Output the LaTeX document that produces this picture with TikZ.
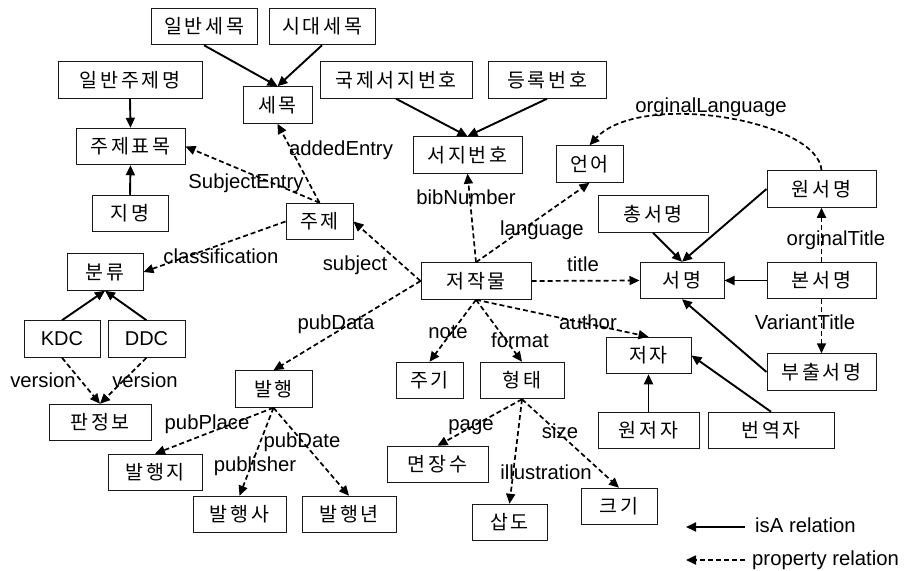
\documentclass[tikz,border=0pt]{standalone}
\usepackage{fontspec}
\setmainfont{Liberation Sans}
\newfontfamily\kr{Noto Sans CJK KR}[LetterSpace=14]
\usetikzlibrary{arrows.meta}
\begin{document}
\begin{tikzpicture}[x=1pt,y=-1pt,
  box/.style={draw=black!90, line width=1pt, minimum height=36.5pt, inner sep=0pt, font=\kr\fontsize{19.5}{24}\selectfont},
  latinbox/.style={box, font=\fontsize{20}{24}\selectfont},
  isa/.style={line width=1.9pt, -{Triangle[length=10pt,width=9pt]}},
  prop/.style={line width=1.7pt, dash pattern=on 5pt off 3pt, -{Triangle[length=10pt,width=9pt]}},
  lbl/.style={font=\fontsize{20.3}{24}\selectfont, inner sep=0pt, anchor=base}]
\fill[white] (0,0) rectangle (904,570);
\useasboundingbox (0,0) rectangle (904,570);

% boxes
\node[box, minimum width=106pt] (ils) at (204,26.5) {일반세목};
\node[box, minimum width=106pt] (sid) at (322,26.5) {시대세목};
\node[box, minimum width=144pt] (iljm) at (130,80) {일반주제명};
\node[box, minimum width=69pt] (sem) at (277.5,105) {세목};
\node[box, minimum width=152pt] (gjs) at (396,80) {국제서지번호};
\node[box, minimum width=118pt] (dr) at (547,80) {등록번호};
\node[box, minimum width=109pt] (jjp) at (130.5,146.5) {주제표목};
\node[box, minimum width=109pt] (sjb) at (467.5,155) {서지번호};
\node[box, minimum width=67pt] (eo) at (589.5,164) {언어};
\node[box, minimum width=109pt] (wsm) at (821.5,189) {원서명};
\node[box, minimum width=76pt] (jm) at (130,213.5) {지명};
\node[box, minimum width=110pt] (csm) at (653,214) {총서명};
\node[box, minimum width=67pt] (jj) at (319.5,221.5) {주제};
\node[box, minimum width=76pt] (bl) at (105,272) {분류};
\node[box, minimum width=110pt] (jjm) at (476,281) {저작물};
\node[box, minimum width=84pt] (sm) at (682,280.5) {서명};
\node[box, minimum width=109pt] (bsm) at (821.5,280.5) {본서명};
\node[latinbox, minimum width=76pt] (kdc) at (62,339) {KDC};
\node[latinbox, minimum width=77pt] (ddc) at (146.5,339) {DDC};
\node[box, minimum width=85pt] (jja) at (648.5,355.5) {저자};
\node[box, minimum width=109pt] (bcsm) at (821.5,372) {부출서명};
\node[box, minimum width=67pt] (jg) at (429.5,380.5) {주기};
\node[box, minimum width=84pt] (ht) at (522,380.5) {형태};
\node[box, minimum width=77pt] (bh) at (273.5,389) {발행};
\node[box, minimum width=102pt] (pjb) at (100,422.5) {판정보};
\node[box, minimum width=101pt] (wjj) at (648.5,430.5) {원저자};
\node[box, minimum width=126pt] (byj) at (771,430.5) {번역자};
\node[box, minimum width=101pt] (mjs) at (437.5,464.5) {면장수};
\node[box, minimum width=94pt] (bhj) at (155,472.5) {발행지};
\node[box, minimum width=76pt] (kg) at (619,506.5) {크기};
\node[box, minimum width=93pt] (bhs) at (239.5,514.5) {발행사};
\node[box, minimum width=94pt] (bhn) at (349,514.5) {발행년};
\node[box, minimum width=75pt] (sd) at (509.5,522.5) {삽도};

% isA relations
\draw[isa] (ils.south) -- (sem.north);
\draw[isa] (sid.south) -- (sem.north);
\draw[isa] (iljm.south) -- (jjp.north);
\draw[isa] (jm.north) -- (jjp.south);
\draw[isa] (gjs.south) -- (sjb.north);
\draw[isa] (dr.south) -- (sjb.north);
\draw[isa] (wsm.west) -- (sm.north);
\draw[isa] (csm.south) -- (sm.north);
\draw[isa] (bsm.west) -- (sm.east);
\draw[isa] (bcsm.west) -- (sm.south);
\draw[isa] (wjj.north) -- (jja.south);
\draw[isa] (byj.north) -- (jja.east);
\draw[isa] (kdc.north) -- (bl.south);
\draw[isa] (ddc.north) -- (bl.south);

% property relations
\draw[prop] (jj.north) -- (sem.south);
\draw[prop] (jj.north) -- (jjp.east);
\draw[prop] (jj.west) -- (bl.east);
\draw[prop] (jjm.west) -- (jj.east);
\draw[prop] (jjm.north) -- (sjb.south);
\draw[prop] (jjm.north) -- (eo.south);
\draw[prop] (jjm.east) -- (sm.west);
\draw[prop] (wsm.north) .. controls (818,120) and (640,90) .. (eo.north);
\draw[prop] (bsm.north) -- (wsm.south);
\draw[prop] (bsm.south) -- (bcsm.north);
\draw[prop] (jjm.west) -- (bh.north);
\draw[prop] (jjm.south) -- (jg.north);
\draw[prop] (jjm.south) -- (ht.north);
\draw[prop] (jjm.south) -- (jja.north);
\draw[prop] (ht.south) -- (mjs.north);
\draw[prop] (ht.south) -- (sd.north);
\draw[prop] (ht.south) -- (kg.north);
\draw[prop] (kdc.south) -- (pjb.north);
\draw[prop] (ddc.south) -- (pjb.north);
\draw[prop] (bh.south) -- (bhj.north);
\draw[prop] (bh.south) -- (bhs.north);
\draw[prop] (bh.south) -- (bhn.north);

% labels
\node[lbl] (l1) at (341,155) {addedEntry};
\node[lbl] (l2) at (246,188) {SubjectEntry};
\node[lbl] (l3) at (221,263) {classification};
\node[lbl] (l4) at (355,270) {subject};
\node[lbl] (l5) at (466,204) {bibNumber};
\node[lbl] (l6) at (542,235) {language};
\node[lbl] (l7) at (583,271) {title};
\node[lbl] (l8) at (711,112) {orginalLanguage};
\node[lbl] (l9) at (836,245) {orginalTitle};
\node[lbl] (l10) at (805,329) {VariantTitle};
\node[lbl] (l11) at (336,329) {pubData};
\node[lbl] (l12) at (448,338) {note};
\node[lbl] (l13) at (520,347) {format};
\node[lbl] (l14) at (588,329) {author};
\node[lbl] (l15) at (471,430) {page};
\node[lbl] (l16) at (546,479) {illustration};
\node[lbl] (l17) at (560,438) {size};
\node[lbl] (l18) at (43,387) {version};
\node[lbl] (l19) at (145,387) {version};
\node[lbl] (l20) at (207,429) {pubPlace};
\node[lbl] (l21) at (255,471) {publisher};
\node[lbl] (l22) at (302,447) {pubDate};

% legend
\coordinate (isaR) at (745,527);
\coordinate (isaL) at (686,527);
\draw[isa] (isaR) -- (isaL);
\node[lbl, anchor=base west] (lg1) at (755,532) {isA relation};
\coordinate (prR) at (745,560);
\coordinate (prL) at (686,560);
\draw[prop] (prR) -- (prL);
\node[lbl, anchor=base west] (lg2) at (752,565) {property relation};
\end{tikzpicture}
\end{document}
